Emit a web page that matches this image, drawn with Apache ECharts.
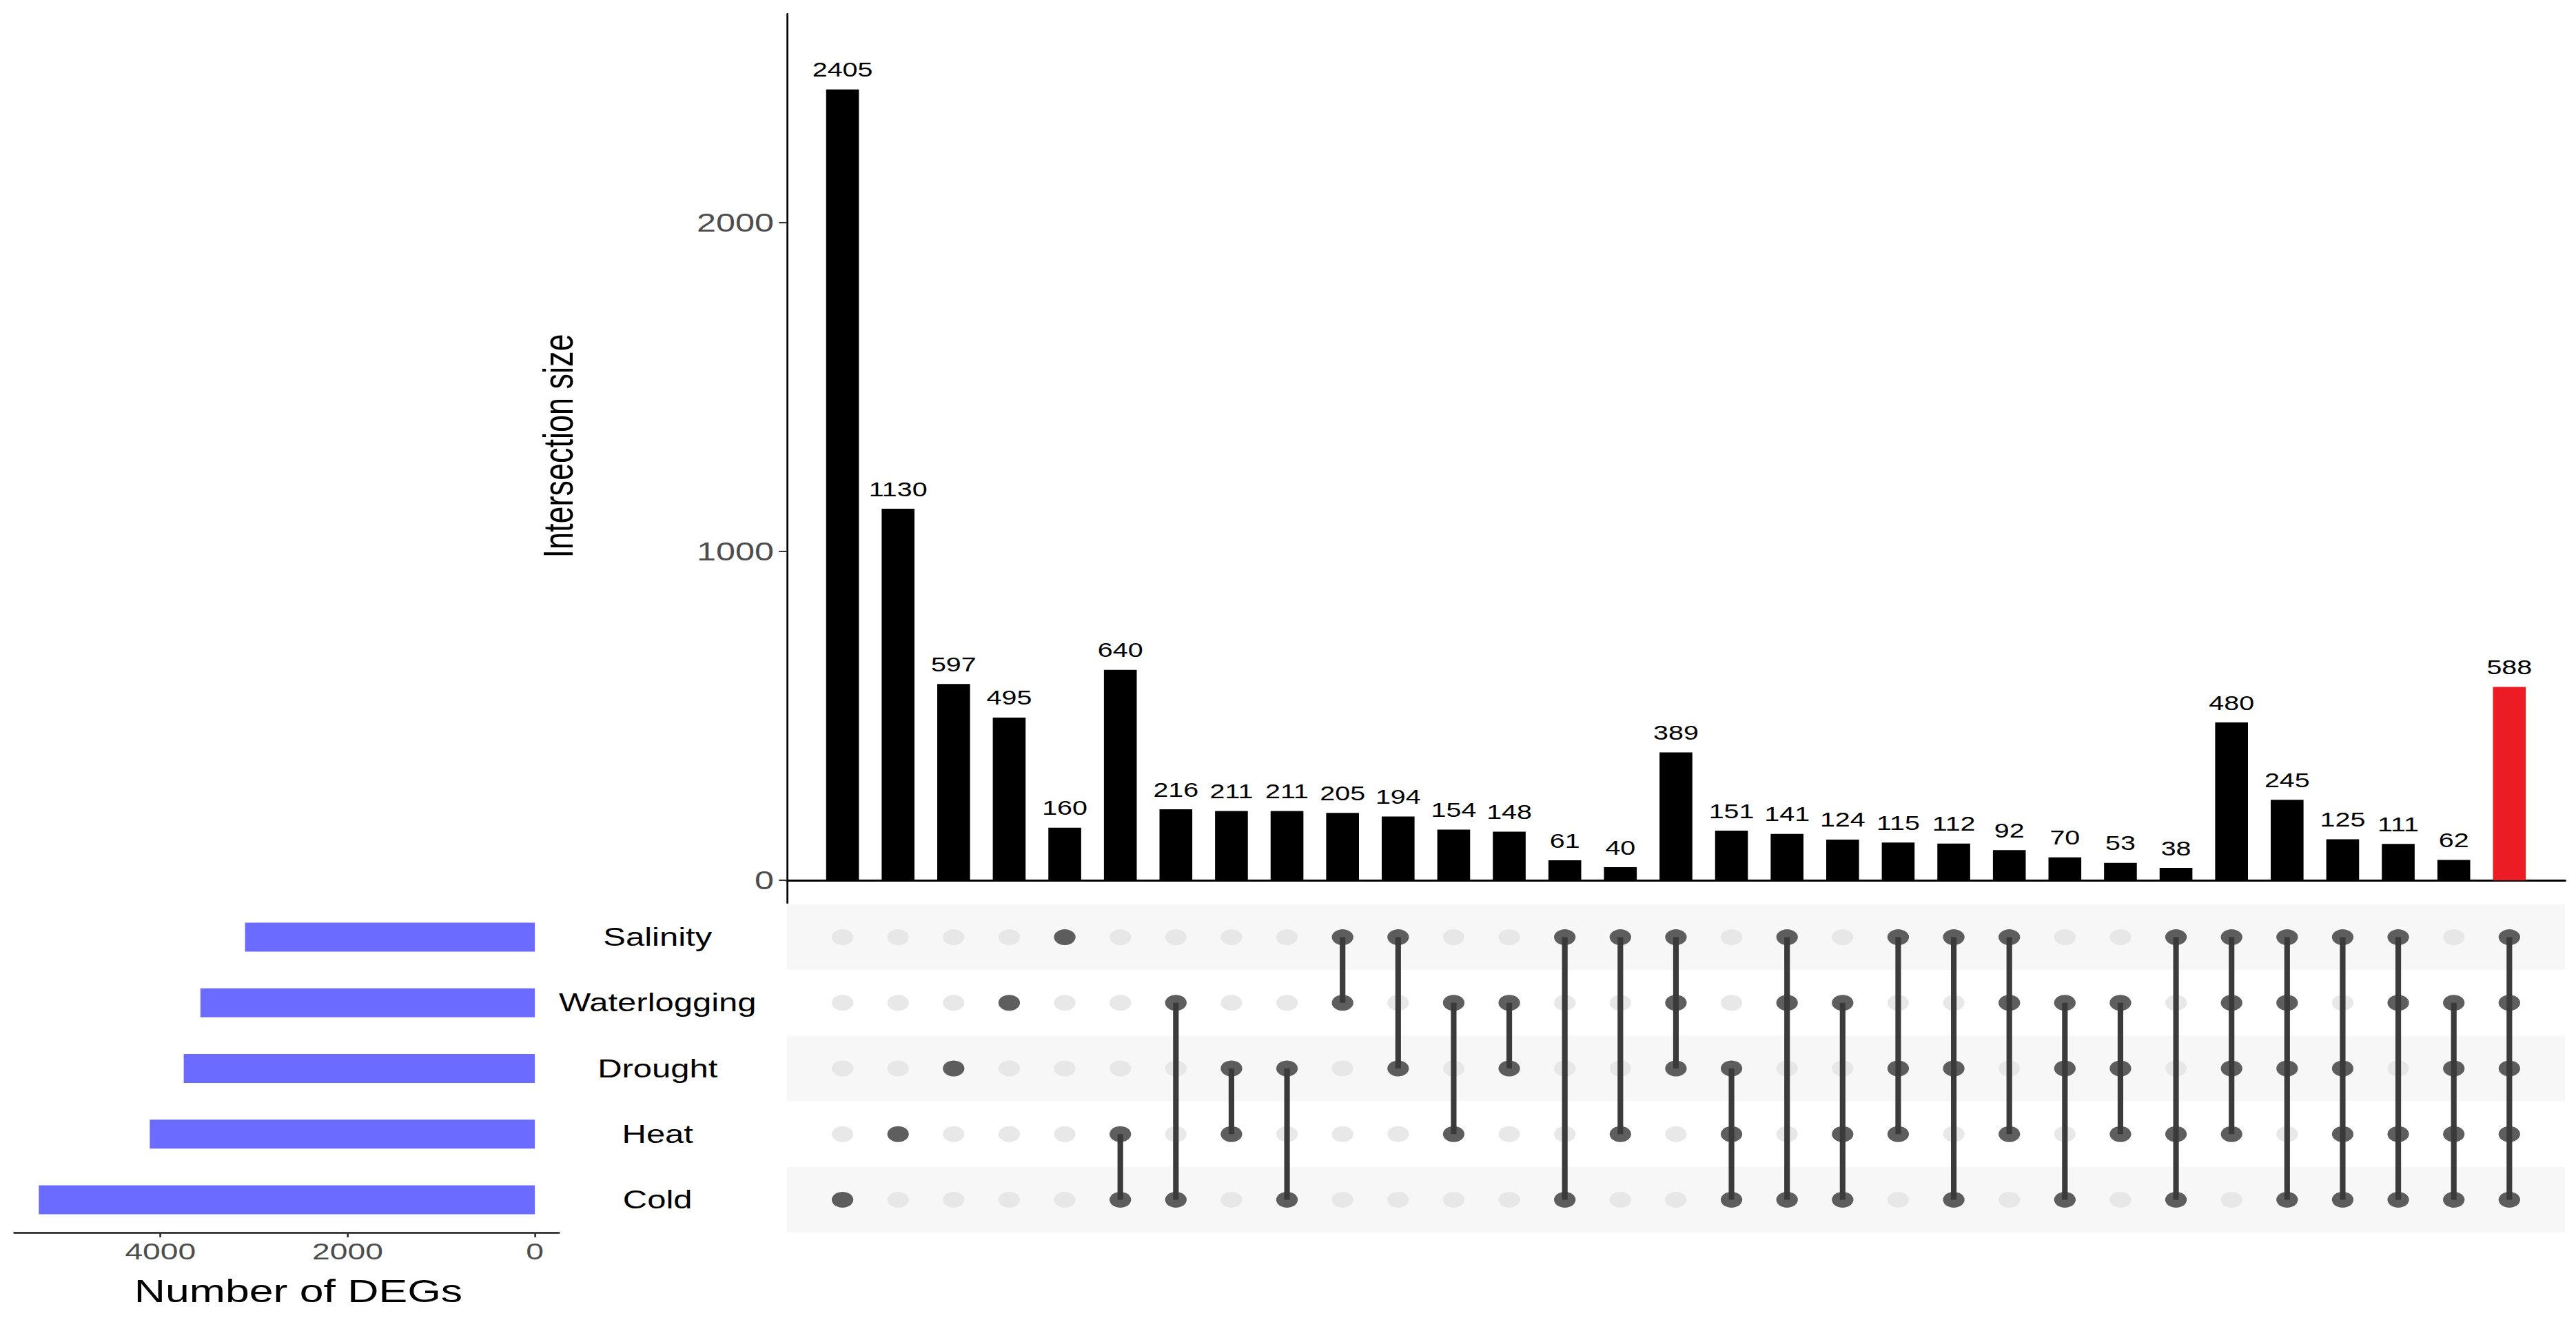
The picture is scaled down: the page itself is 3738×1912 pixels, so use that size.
<!DOCTYPE html>
<html>
<head>
<meta charset="utf-8">
<title>UpSet plot - DEGs under five stresses</title>
<script src="https://cdn.jsdelivr.net/npm/echarts@6/dist/echarts.min.js"></script>
<style>
  html, body { margin: 0; padding: 0; overflow: hidden; background: #fff; }
  /* the figure is drawn narrow and stretched sideways, like the original */
  #upset { width: 2748px; height: 1912px; transform: scaleX(1.36026); transform-origin: 0 0; }
</style>
</head>
<body>
<div id="upset"></div>
<script>
// sets, top row first
var sets = ['Salinity', 'Waterlogging', 'Drought', 'Heat', 'Cold'];
var setSizes = [3096, 3573, 3751, 4114, 5300];
var setSizeTicks = [0, 2000, 4000];

// intersections, left to right
var intersectionSizes = [2405, 1130, 597, 495, 160, 640, 216, 211, 211, 205, 194, 154, 148, 61, 40,
	389, 151, 141, 124, 115, 112, 92, 70, 53, 38, 480, 245, 125, 111, 62, 588];
var intersectionSets = [
	['Cold'], ['Heat'], ['Drought'], ['Waterlogging'], ['Salinity'],
	['Heat', 'Cold'], ['Waterlogging', 'Cold'], ['Drought', 'Heat'], ['Drought', 'Cold'],
	['Salinity', 'Waterlogging'], ['Salinity', 'Drought'], ['Waterlogging', 'Heat'],
	['Waterlogging', 'Drought'], ['Salinity', 'Cold'], ['Salinity', 'Heat'],
	['Salinity', 'Waterlogging', 'Drought'], ['Drought', 'Heat', 'Cold'],
	['Salinity', 'Waterlogging', 'Cold'], ['Waterlogging', 'Heat', 'Cold'],
	['Salinity', 'Drought', 'Heat'], ['Salinity', 'Drought', 'Cold'],
	['Salinity', 'Waterlogging', 'Heat'], ['Waterlogging', 'Drought', 'Cold'],
	['Waterlogging', 'Drought', 'Heat'], ['Salinity', 'Heat', 'Cold'],
	['Salinity', 'Waterlogging', 'Drought', 'Heat'], ['Salinity', 'Waterlogging', 'Drought', 'Cold'],
	['Salinity', 'Drought', 'Heat', 'Cold'], ['Salinity', 'Waterlogging', 'Heat', 'Cold'],
	['Waterlogging', 'Drought', 'Heat', 'Cold'],
	['Salinity', 'Waterlogging', 'Drought', 'Heat', 'Cold']
];
var sizeTicks = [0, 1000, 2000];

var chart = echarts.init(document.getElementById('upset'), null, { renderer: 'svg' });

// build series data
var barData = [], allCells = [], memberCells = [], links = [];
for (var i = 0; i < intersectionSizes.length; i++) {
	var col = i + 1;
	var full = intersectionSets[i].length === sets.length;
	barData.push({ value: [col, intersectionSizes[i]], itemStyle: { color: full ? '#ed1c24' : '#000' } });
	for (var s = 0; s < sets.length; s++) {
		allCells.push([col, s]);
	}
	var idx = intersectionSets[i].map(function(name) { return sets.indexOf(name); });
	idx.forEach(function(k) { memberCells.push([col, k]); });
	if (idx.length > 1) {
		links.push([col, Math.min.apply(null, idx), Math.max.apply(null, idx)]);
	}
}

var font = 'Liberation Sans';
// plain numbers, no thousands separator
var plain = function(v) { return String(v); };

chart.setOption({
	animation: false,
	textStyle: { fontFamily: font },
	grid: [
		// intersection bars
		{ left: 839.5, top: 20, width: 1896.7, height: 1290 },
		// matrix
		{ left: 839.5, top: 1312, width: 1896.7, height: 476 },
		// set sizes
		{ left: 15.4, top: 1312, width: 580.8, height: 476 }
	],
	xAxis: [ {
		gridIndex: 0,
		type: 'value',
		min: 0,
		max: intersectionSizes.length + 1,
		axisLine: { show: true, onZero: true, lineStyle: { color: '#000', width: 3 } },
		axisTick: { show: false },
		axisLabel: { show: false },
		splitLine: { show: false }
	}, {
		gridIndex: 1,
		type: 'value',
		min: 0,
		max: intersectionSizes.length + 1,
		show: false
	}, {
		gridIndex: 2,
		type: 'value',
		inverse: true,
		min: -257,
		max: 5560,
		axisLine: { show: true, onZero: false, lineStyle: { color: '#1a1a1a', width: 2.5 } },
		axisTick: { show: true, length: 7, customValues: setSizeTicks, lineStyle: { color: '#333', width: 2 } },
		axisLabel: { customValues: setSizeTicks, formatter: plain, color: '#4d4d4d', fontSize: 34, margin: 10, fontFamily: font },
		splitLine: { show: false },
		name: 'Number of DEGs',
		nameLocation: 'middle',
		nameGap: 62,
		nameTextStyle: { color: '#000', fontSize: 46, fontFamily: font, padding: [0, 0, 0, 25] }
	} ],
	yAxis: [ {
		gridIndex: 0,
		type: 'value',
		min: -69,
		max: 2635,
		axisLine: { show: true, onZero: false, lineStyle: { color: '#000', width: 2 } },
		axisTick: { show: true, length: 8.6, customValues: sizeTicks, lineStyle: { color: '#333', width: 2 } },
		axisLabel: { customValues: sizeTicks, formatter: plain, color: '#4d4d4d', fontSize: 37, margin: 14, fontFamily: font },
		splitLine: { show: false },
		name: 'Intersection size',
		nameLocation: 'middle',
		nameGap: 222,
		nameTextStyle: { color: '#000', fontSize: 45, fontFamily: font, padding: [0, 0, 0, 36] }
	}, {
		gridIndex: 1,
		type: 'category',
		data: sets,
		inverse: true,
		axisLine: { show: false },
		axisTick: { show: false },
		axisLabel: { color: '#000', fontSize: 36, align: 'center', margin: 138, fontFamily: font },
		splitArea: { show: true, areaStyle: { color: ['#f7f7f7', '#ffffff'] } }
	}, {
		gridIndex: 2,
		type: 'category',
		data: sets,
		inverse: true,
		show: false
	} ],
	series: [ {
		name: 'Intersection size',
		type: 'bar',
		xAxisIndex: 0,
		yAxisIndex: 0,
		barWidth: 35,
		data: barData,
		label: {
			show: true,
			position: 'top',
			distance: 14,
			color: '#000',
			fontSize: 29,
			fontFamily: font
		}
	}, {
		name: 'empty cells',
		type: 'scatter',
		xAxisIndex: 1,
		yAxisIndex: 1,
		symbolSize: 23,
		itemStyle: { color: '#e2e2e2' },
		z: 2,
		data: allCells
	}, {
		name: 'links',
		type: 'custom',
		xAxisIndex: 1,
		yAxisIndex: 1,
		z: 3,
		renderItem: function(params, api) {
			var p1 = api.coord([api.value(0), api.value(1)]);
			var p2 = api.coord([api.value(0), api.value(2)]);
			return {
				type: 'line',
				shape: { x1: p1[0], y1: p1[1], x2: p2[0], y2: p2[1] },
				style: { stroke: '#3b3b3b', lineWidth: 6 }
			};
		},
		encode: { x: 0, y: [1, 2] },
		data: links
	}, {
		name: 'members',
		type: 'scatter',
		xAxisIndex: 1,
		yAxisIndex: 1,
		symbolSize: 23,
		itemStyle: { color: '#3b3b3b' },
		z: 4,
		data: memberCells
	}, {
		name: 'Set size',
		type: 'bar',
		xAxisIndex: 2,
		yAxisIndex: 2,
		barWidth: 42,
		itemStyle: { color: '#6b6cff' },
		data: setSizes
	} ]
});
</script>
</body>
</html>
